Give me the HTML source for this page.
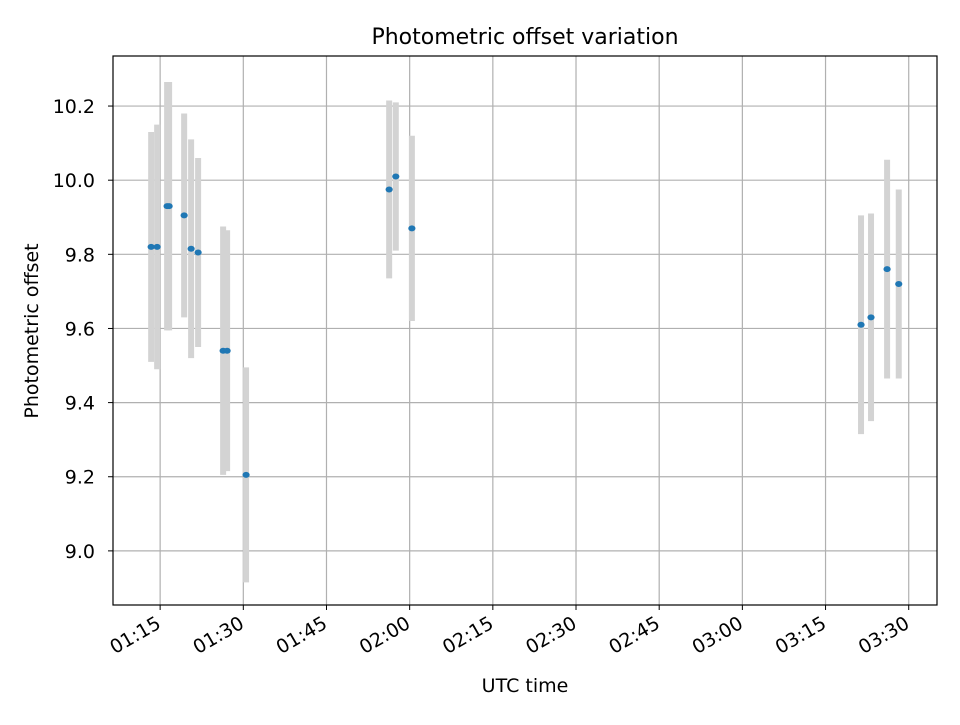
<!DOCTYPE html>
<html><head><meta charset="utf-8"><style>
body{margin:0;background:#fff}
svg text{font-family:"DejaVu Sans","Liberation Sans",sans-serif;fill:#000}
</style></head><body>
<svg id="chart" width="960" height="720" viewBox="0 0 960 720">
<rect width="960" height="720" fill="#fff"/>
<text x="525" y="44" style="font-size:22px" text-anchor="middle">Photometric offset variation</text>
<g id="grid"></g><g id="bars"></g><g id="pts"></g>
<rect x="113" y="56" width="824" height="549" fill="none" stroke="#000" stroke-width="1.2"/>
<g id="axes"></g>
<text x="525" y="692" style="font-size:19px" text-anchor="middle">UTC time</text>
<text transform="translate(38,331) rotate(-90)" style="font-size:19px" text-anchor="middle">Photometric offset</text>
</svg>
<script>
const times=[73.38,74.46,76.26,76.62,79.33,80.59,81.85,86.36,87.08,90.5,116.3,117.5,120.4,201.4,203.2,206.1,208.2];
const offsets=[9.82,9.82,9.93,9.93,9.905,9.815,9.805,9.54,9.54,9.205,9.975,10.01,9.87,9.61,9.63,9.76,9.72];
const errors=[0.31,0.33,0.335,0.335,0.275,0.295,0.255,0.335,0.325,0.29,0.24,0.2,0.25,0.295,0.28,0.295,0.255];
const xTicks=[75,90,105,120,135,150,165,180,195,210];
const xTickLabels=["01:15","01:30","01:45","02:00","02:15","02:30","02:45","03:00","03:15","03:30"];
const yTicks=[9.0,9.2,9.4,9.6,9.8,10.0,10.2];
const yTickLabels=["9.0","9.2","9.4","9.6","9.8","10.0","10.2"];
const X0=113,X1=937,Y0=605,Y1=56,xmin=66.5,xmax=215.1,ymin=8.854,ymax=10.335;
const sx=m=>X0+(m-xmin)/(xmax-xmin)*(X1-X0);
const sy=v=>Y0-(v-ymin)/(ymax-ymin)*(Y0-Y1);
const NS="http://www.w3.org/2000/svg";
function mk(tag,parent,attrs){const e=document.createElementNS(NS,tag);for(const k in attrs)e.setAttribute(k,attrs[k]);document.getElementById(parent).appendChild(e);return e;}
xTicks.forEach((t,i)=>{const x=sx(t);
 let g=mk('line','grid',{x1:x,x2:x,y1:Y1,y2:Y0,stroke:'#b0b0b0','stroke-width':1.2});
 
 
 let tk=mk('line','axes',{x1:x,x2:x,y1:Y0,y2:Y0+5,stroke:'#000'});
 
 
 let tx=mk('text','axes',{style:'font-size:19px','text-anchor':'end',transform:`translate(${x+2},${Y0+22}) rotate(-30)`});
 tx.textContent=xTickLabels[i];
 
 
});
yTicks.forEach((t,i)=>{const y=sy(t);
 let g=mk('line','grid',{x1:X0,x2:X1,y1:y,y2:y,stroke:'#b0b0b0','stroke-width':1.2});
 
 
 let tk=mk('line','axes',{x1:X0-5,x2:X0,y1:y,y2:y,stroke:'#000'});
 
 
 let tx=mk('text','axes',{x:X0-18,y:y+7,style:'font-size:19px','text-anchor':'end'});
 tx.textContent=yTickLabels[i];
 
 
});
times.forEach((t,i)=>{const x=sx(t);
 let b=mk('line','bars',{x1:x,x2:x,y1:sy(offsets[i]+errors[i]),y2:sy(offsets[i]-errors[i]),stroke:'#d3d3d3','stroke-width':6});
 
 
 let p=mk('ellipse','pts',{cx:x,cy:sy(offsets[i]),rx:3.6,ry:3,fill:'#1f77b4'});
 
 
});
</script>
</body></html>
